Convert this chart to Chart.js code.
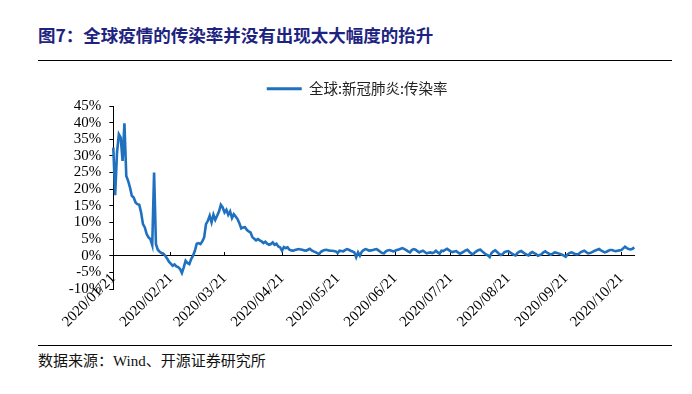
<!DOCTYPE html>
<html>
<head>
<meta charset="utf-8">
<script src="https://cdn.jsdelivr.net/npm/chart.js@4"></script>
<style>
  html, body { margin: 0; padding: 0; background: #fff; }
  body { width: 692px; height: 394px; position: relative; overflow: hidden; }
  #title { position: absolute; left: 38px; top: 24px; font-family: "Noto Sans CJK SC", sans-serif; font-weight: bold; font-size: 17.5px; color: #1d2380; line-height: 22px; white-space: nowrap; }
  #rule1 { position: absolute; left: 38px; top: 60px; width: 634px; height: 0; border-top: 1.5px solid #000; }
  #rule2 { position: absolute; left: 38px; top: 345px; width: 634px; height: 0; border-top: 1px solid #000; }
  #source { position: absolute; left: 38px; top: 351px; font-family: "Liberation Serif", "Noto Sans CJK SC", serif; font-size: 15px; color: #111; line-height: 20px; white-space: nowrap; }
  #c { position: absolute; left: 0; top: 0; }
</style>
</head>
<body>
<div id="title">图7：全球疫情的传染率并没有出现太大幅度的抬升</div>
<div id="rule1"></div>
<div id="rule2"></div>
<div id="source">数据来源：Wind、开源证券研究所</div>
<canvas id="c" width="692" height="394"></canvas>
<script>
// ---- data ----
const seriesName = '全球:新冠肺炎:传染率';
const startDate = '2020-01-21';
// daily infection rate (%) from 2020/01/21 to 2020/10/28
const ratesJanMar = [
  32.5, 18.2, 31, 36.5, 35.5, 28.5, 39.8, 24, 22.5, 20.5,
  18, 17.5, 16, 15.5, 15.3, 13, 9.5, 8.5, 6.5, 5.5,
  5, 3.2, 25, 3.5, 1.8, 1.2, 0.8, 0.6, 0, -0.8,
  -1.8, -2.4, -3, -2.6, -3.2, -3.4, -4, -5.2, -3.5, -1.5,
  -2.2, -2.5, -1.0, 0, 1.5, 3.6, 3.8, 3.5, 4.3, 5.5,
  9.5, 10.5, 12, 10, 12.3, 10.8, 12, 13.3, 15.3, 14.5
];
const ratesMarMay = [
  13, 13.8, 12.3, 13.3, 11.3, 12.5, 11.8, 11, 9.8, 8.2,
  8.5, 8.6, 7.8, 7.3, 7, 5.6, 5.1, 4.6, 5, 4.6,
  4.3, 3.8, 4.2, 3.6, 3.3, 3.5, 4, 3.3, 3.6, 2.8,
  2.5, 1.5, 2.6, 2.3, 2.5, 1.8, 1.6, 1.5, 1.7, 1.9,
  2.0, 1.9, 1.8, 1.6, 1.5, 1.8, 2.1, 1.6, 1.3, 1.1,
  0.8, 0.5, 1.2, 1.5, 1.7, 1.8, 1.6, 1.5, 1.5, 1.4,
  1.3
];
const ratesMayJul = [
  0.8, 1.5, 1.4, 1.3, 1.7, 2.0, 1.8, 1.5, 1.3, 1.0,
  -0.5, 1.0, 0, 1.2, 1.7, 2.0, 1.8, 1.5, 1.6, 1.7,
  1.9, 2.0, 1.6, 1.2, 0.8, 0.7, 1.3, 1.6, 1.7, 1.5,
  1.3, 1.5, 1.7, 1.9, 2.1, 2.3, 2.0, 1.7, 1.3, 1.0,
  1.7, 2.0, 1.8, 1.4, 1.0, 1.3, 1.5, 1.1, 0.7, 0.9,
  1.0, 0.8, 1.0, 1.5, 1.0, 0.6, 1.5, 1.4, 1.8, 2.1,
  1.7
];
const ratesJulSep = [
  1.3, 1.1, 1.3, 1.4, 0.9, 0.6, 0.9, 1.2, 1.6, 1.8,
  1.2, 0.7, 0.4, 1.0, 1.4, 1.7, 1.8, 1.3, 0.8, 0.4,
  0.1, -0.4, 0.8, 1.3, 1.6, 1.1, 0.6, 0.2, 0.5, 1.1,
  1.3, 1.4, 1.0, 0.6, 0.3, 0.1, 0.8, 1.2, 1.4, 1.0,
  0.6, 0.3, 0.1, 0.8, 1.1, 0.8, 0.5, 0.0, 0.2, 0.5,
  1.0, 1.3, 0.9, 0.6, 0.3, 0.6, 1.0, 0.9, 0.7, 0.5,
  0.3, 0.0
];
const ratesSepOct = [
  -0.3, 0.4, 0.8, 1.0, 0.8, 0.5, 0.4, 0.5, 1.0, 1.3,
  1.5, 1.1, 0.7, 0.8, 1.0, 1.3, 1.6, 1.8, 2.0, 1.6,
  1.3, 1.0, 1.2, 1.5, 1.7, 1.7, 1.5, 1.4, 1.5, 1.6,
  1.7, 2.2, 2.7, 2.3, 2.0, 1.9, 2.1, 2.5
];
const rates = [].concat(ratesJanMar, ratesMarMay, ratesMayJul, ratesJulSep, ratesSepOct);
const tickLabels = ['2020/01/21','2020/02/21','2020/03/21','2020/04/21','2020/05/21',
                    '2020/06/21','2020/07/21','2020/08/21','2020/09/21','2020/10/21'];
const yMin = -10, yMax = 45, yStep = 5;

// daily category labels
const categories = [];
{
  const d0 = new Date(startDate + 'T00:00:00Z');
  for (let i = 0; i < rates.length; i++) {
    const d = new Date(d0.getTime() + i * 86400000);
    const s = d.getUTCFullYear() + '/' + String(d.getUTCMonth() + 1).padStart(2, '0') + '/' + String(d.getUTCDate()).padStart(2, '0');
    categories.push(s);
  }
}

const lineColor = '#1f70bf';
const serif = 'Liberation Serif';

// nudge the legend box to the right (reference legend is centred slightly right of the plot)
const legendShift = {
  id: 'legendShift',
  afterLayout(chart) {
    if (chart.legend) { chart.legend.left += 7; chart.legend.right += 7; }
  }
};

new Chart(document.getElementById('c'), {
  type: 'line',
  plugins: [legendShift],
  data: {
    labels: categories,
    datasets: [{
      label: seriesName,
      data: rates,
      borderColor: lineColor,
      backgroundColor: lineColor,
      borderWidth: 2.6,
      pointRadius: 0,
      tension: 0,
      fill: false
    }]
  },
  options: {
    responsive: false,
    animation: false,
    devicePixelRatio: 1,
    layout: { padding: { left: 66, right: 57.7, top: 79.5, bottom: 105 } },
    plugins: {
      tooltip: { enabled: false },
      legend: {
        position: 'top',
        labels: {
          boxWidth: 35,
          boxHeight: 3,
          padding: 2,
          color: '#222',
          font: { family: '"Noto Sans CJK SC"', size: 14.5 },
          generateLabels(chart) {
            const items = Chart.defaults.plugins.legend.labels.generateLabels(chart);
            items.forEach(it => { it.lineWidth = 0; it.fillStyle = lineColor; });
            return items;
          }
        }
      }
    },
    scales: {
      x: {
        type: 'category',
        position: { y: 0 },
        border: { display: true, color: '#000', width: 1 },
        grid: { drawOnChartArea: false, drawTicks: true, tickLength: -4, color: '#000' },
        ticks: {
          autoSkip: false,
          maxRotation: 45,
          minRotation: 45,
          padding: 18,
          color: '#000',
          font: { family: serif, size: 15 },
          callback(v, i) {
            const lab = categories[i];
            return tickLabels.includes(lab) ? lab : null;
          }
        }
      },
      y: {
        min: yMin,
        max: yMax,
        afterFit(scale) { scale.width = 47.3; },
        border: { display: true, color: '#000', width: 1 },
        grid: { drawOnChartArea: false, drawTicks: true, tickLength: 4, color: '#000' },
        ticks: {
          stepSize: yStep,
          autoSkip: false,
          padding: 8,
          color: '#000',
          font: { family: serif, size: 15 },
          callback(v) { return v + '%'; }
        }
      }
    }
  }
});
</script>
</body>
</html>
